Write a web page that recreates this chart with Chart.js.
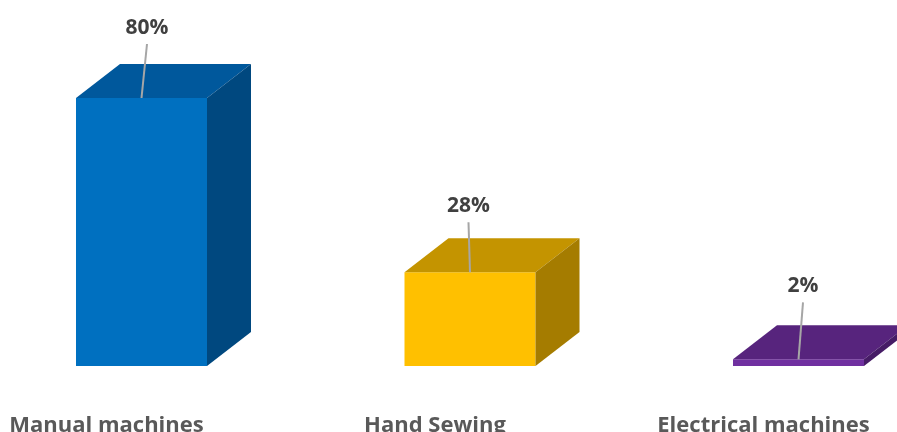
<!DOCTYPE html>
<html lang="en">
<head>
    <meta charset="UTF-8">
    <title>Sewing methods</title>
    <script src="https://cdn.jsdelivr.net/npm/chart.js"></script>
    <style>
        body { margin: 0; background: #fff; }
    </style>
</head>
<body>
    <canvas id="sewChart" width="897" height="432"></canvas>
    <script>
        // Chart data
        const categories = ['Manual machines', 'Hand Sewing', 'Electrical machines'];
        const shares = [80, 28, 2];
        const valueLabels = ['80%', '28%', '2%'];

        // Face colours of each 3D bar (front / top / side)
        const frontColors = ['#0070C0', '#FFC000', '#7030A0'];
        const topColors = ['#00589C', '#C49400', '#57247D'];
        const sideColors = ['#00487F', '#A57C00', '#461C66'];
        // Hand-placed label positions relative to the bar's top centre
        const labelNudge = [{ dx: 5.5, dy: -64 }, { dx: -1.5, dy: -60 }, { dx: 4.5, dy: -67 }];

        const DEPTH_X = 44, DEPTH_Y = 34;

        // Draws the top and side faces of each bar
        const bar3d = {
            id: 'bar3d',
            afterDatasetsDraw(chart) {
                const ctx = chart.ctx;
                chart.getDatasetMeta(0).data.forEach((bar, i) => {
                    const { x, y, base, width } = bar.getProps(['x', 'y', 'base', 'width'], true);
                    const l = x - width / 2, r = x + width / 2;
                    ctx.save();
                    ctx.fillStyle = topColors[i];
                    ctx.beginPath();
                    ctx.moveTo(l, y);
                    ctx.lineTo(r, y);
                    ctx.lineTo(r + DEPTH_X, y - DEPTH_Y);
                    ctx.lineTo(l + DEPTH_X, y - DEPTH_Y);
                    ctx.closePath();
                    ctx.fill();
                    ctx.fillStyle = sideColors[i];
                    ctx.beginPath();
                    ctx.moveTo(r, y);
                    ctx.lineTo(r + DEPTH_X, y - DEPTH_Y);
                    ctx.lineTo(r + DEPTH_X, base - DEPTH_Y);
                    ctx.lineTo(r, base);
                    ctx.closePath();
                    ctx.fill();
                    ctx.restore();
                });
            }
        };

        // Value labels with leader lines
        const valueTags = {
            id: 'valueTags',
            afterDatasetsDraw(chart) {
                const ctx = chart.ctx;
                chart.getDatasetMeta(0).data.forEach((bar, i) => {
                    const { x, y } = bar.getProps(['x', 'y'], true);
                    const lx = x + labelNudge[i].dx;
                    const ly = y + labelNudge[i].dy;
                    ctx.save();
                    ctx.strokeStyle = '#A6A6A6';
                    ctx.lineWidth = 2;
                    ctx.beginPath();
                    ctx.moveTo(x, y);
                    ctx.lineTo(lx, ly + 10);
                    ctx.stroke();
                    ctx.fillStyle = '#404040';
                    ctx.font = 'bold 21px "Open Sans"';
                    ctx.textAlign = 'center';
                    ctx.textBaseline = 'alphabetic';
                    ctx.fillText(valueLabels[i], lx, ly);
                    ctx.restore();
                });
            }
        };

        new Chart(document.getElementById('sewChart'), {
            type: 'bar',
            data: {
                labels: categories,
                datasets: [{
                    data: shares,
                    backgroundColor: frontColors,
                    borderWidth: 0,
                    clip: false,
                    categoryPercentage: 1,
                    barPercentage: 0.3988
                }]
            },
            options: {
                responsive: false,
                animation: false,
                layout: { padding: { left: 141.5, right: 98.5, top: 31, bottom: 0 } },
                plugins: {
                    legend: { display: false },
                    tooltip: { enabled: false }
                },
                scales: {
                    x: {
                        offset: false,
                        grid: { display: false },
                        border: { display: false },
                        ticks: {
                            color: '#595959',
                            font: { family: 'Open Sans', size: 22, weight: 'bold', lineHeight: 1.2 },
                            padding: 39,
                            labelOffset: -35,
                            maxRotation: 0,
                            autoSkip: false
                        },
                        afterFit(scale) {
                            scale.paddingLeft = 0;
                            scale.paddingRight = 0;
                            scale.height = 66;
                        }
                    },
                    y: {
                        display: false,
                        min: 0,
                        max: 100
                    }
                }
            },
            plugins: [bar3d, valueTags]
        });
    </script>
</body>
</html>
